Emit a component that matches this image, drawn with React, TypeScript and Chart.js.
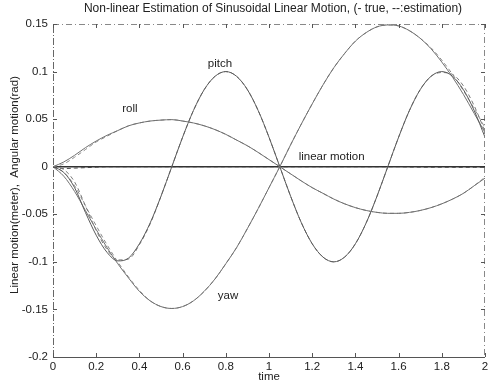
import React, { useEffect, useRef } from 'react';
import { Chart, registerables } from 'chart.js';

Chart.register(...registerables);

const timeValues = [0, 0.05, 0.1, 0.15, 0.2, 0.25, 0.3, 0.35, 0.4, 0.45, 0.5, 0.55, 0.6, 0.65, 0.7, 0.75, 0.8, 0.85, 0.9, 0.95, 1, 1.05, 1.1, 1.15, 1.2, 1.25, 1.3, 1.35, 1.4, 1.45, 1.5, 1.55, 1.6, 1.65, 1.7, 1.75, 1.8, 1.85, 1.9, 1.95, 2];

const rollTrue = [0, 0.005, 0.012, 0.02, 0.027, 0.033, 0.038, 0.043, 0.046, 0.048, 0.049, 0.0495, 0.048, 0.046, 0.043, 0.039, 0.034, 0.028, 0.022, 0.015, 0.0075, 0, -0.0075, -0.015, -0.022, -0.028, -0.034, -0.039, -0.043, -0.046, -0.048, -0.049, -0.049, -0.048, -0.046, -0.043, -0.039, -0.034, -0.028, -0.02, -0.012];
const rollEst = [0, 0.003, 0.01, 0.018, 0.026, 0.032, 0.038, 0.043, 0.046, 0.048, 0.049, 0.0495, 0.048, 0.046, 0.043, 0.039, 0.034, 0.028, 0.022, 0.015, 0.0075, 0, -0.0075, -0.015, -0.022, -0.028, -0.034, -0.039, -0.043, -0.046, -0.048, -0.049, -0.049, -0.048, -0.046, -0.043, -0.039, -0.034, -0.028, -0.02, -0.011];

const pitchTrue = [0, -0.006, -0.022, -0.048, -0.072, -0.09, -0.099, -0.096, -0.081, -0.059, -0.031, 0, 0.031, 0.059, 0.081, 0.095, 0.1, 0.095, 0.081, 0.059, 0.031, 0, -0.031, -0.059, -0.081, -0.095, -0.1, -0.095, -0.081, -0.059, -0.031, 0, 0.031, 0.059, 0.081, 0.095, 0.1, 0.095, 0.081, 0.059, 0.031];
const pitchEst = [0, -0.003, -0.016, -0.041, -0.067, -0.087, -0.098, -0.097, -0.082, -0.06, -0.031, 0, 0.031, 0.059, 0.081, 0.095, 0.1, 0.095, 0.081, 0.059, 0.031, 0, -0.031, -0.059, -0.081, -0.095, -0.1, -0.095, -0.081, -0.059, -0.031, 0, 0.031, 0.059, 0.081, 0.095, 0.099, 0.097, 0.085, 0.064, 0.037];

const yawTrue = [0, -0.01, -0.026, -0.046, -0.066, -0.085, -0.102, -0.117, -0.131, -0.141, -0.147, -0.149, -0.147, -0.141, -0.131, -0.118, -0.102, -0.085, -0.065, -0.044, -0.022, 0, 0.023, 0.045, 0.066, 0.086, 0.104, 0.119, 0.132, 0.141, 0.147, 0.149, 0.148, 0.143, 0.135, 0.124, 0.11, 0.094, 0.076, 0.056, 0.036];
const yawEst = [0, -0.006, -0.02, -0.041, -0.062, -0.082, -0.1, -0.116, -0.13, -0.141, -0.147, -0.149, -0.147, -0.141, -0.131, -0.118, -0.102, -0.085, -0.065, -0.044, -0.022, 0, 0.023, 0.045, 0.066, 0.086, 0.104, 0.119, 0.132, 0.141, 0.147, 0.149, 0.148, 0.143, 0.135, 0.125, 0.112, 0.097, 0.08, 0.061, 0.041];

const linearTrue = [0, 0, 0, 0, 0, 0, 0, 0, 0, 0, 0, 0, 0, 0, 0, 0, 0, 0, 0, 0, 0, 0, 0, 0, 0, 0, 0, 0, 0, 0, 0, 0, 0, 0, 0, 0, 0, 0, 0, 0, 0];
const linearEst = [0, -0.002, -0.0015, -0.001, -0.0005, 0, 0, 0, 0, 0, 0, 0, 0, 0, 0, 0, 0, 0, 0, 0, 0, 0, 0, 0, 0, 0, 0, 0, 0, 0, 0, 0, 0, -0.0003, -0.0004, -0.0005, -0.0005, -0.0006, -0.0006, -0.0006, -0.0006];

const xTicks = [0, 0.2, 0.4, 0.6, 0.8, 1, 1.2, 1.4, 1.6, 1.8, 2];
const xTickLabels = ['0', '0.2', '0.4', '0.6', '0.8', '1', '1.2', '1.4', '1.6', '1.8', '2'];
const yTicks = [-0.2, -0.15, -0.1, -0.05, 0, 0.05, 0.1, 0.15];
const yTickLabels = ['-0.2', '-0.15', '-0.1', '-0.05', '0', '0.05', '0.1', '0.15'];

const titleText = 'Non-linear Estimation of Sinusoidal Linear Motion, (- true, --:estimation)';
const xAxisTitle = 'time';
const yAxisTitle = 'Linear motion(meter),  Angular motion(rad)';
const curveLabels = ['roll', 'pitch', 'yaw', 'linear motion'];
const curveLabelX = [0.356, 0.773, 0.81, 1.29];
const curveLabelY = [0.061, 0.108, -0.136, 0.0105];

const FONT = "'Liberation Sans', Arial, sans-serif";

export default function App() {
  const ref = useRef<HTMLCanvasElement>(null);

  useEffect(() => {
    const canvas = ref.current;
    if (!canvas) return;
    const pts = (ys: number[]) => timeValues.map((t, i) => ({ x: t, y: ys[i] }));
    const ds = (label: string, ys: number[], est: boolean, color: string, width: number) => ({
      label,
      data: pts(ys),
      borderColor: color,
      borderWidth: width,
      borderDash: est ? [4, 3] : [],
      pointRadius: 0,
      cubicInterpolationMode: 'monotone' as const,
      fill: false,
    });

    const datasets = [
      ds('roll', rollTrue, false, '#707070', 1),
      ds('roll est', rollEst, true, '#8a8a8a', 1),
      ds('pitch', pitchTrue, false, '#5a5a5a', 1),
      ds('pitch est', pitchEst, true, '#7a7a7a', 1),
      ds('yaw', yawTrue, false, '#707070', 1),
      ds('yaw est', yawEst, true, '#8a8a8a', 1),
      ds('linear motion', linearTrue, false, '#333333', 1.5),
      ds('linear est', linearEst, true, '#555555', 1),
    ];

    const decor = {
      id: 'decor',
      afterDatasetsDraw(chart: any) {
        const ctx = chart.ctx;
        const a = chart.chartArea;
        const xs = chart.scales.x;
        const ys = chart.scales.y;
        ctx.save();
        // frame
        ctx.strokeStyle = '#555555';
        ctx.lineWidth = 1;
        ctx.setLineDash([]);
        ctx.beginPath();
        ctx.moveTo(a.left, a.bottom + 0.5);
        ctx.lineTo(a.right, a.bottom + 0.5);
        ctx.stroke();
        ctx.strokeStyle = '#666666';
        ctx.setLineDash([7, 2, 1, 2]);
        ctx.beginPath();
        ctx.moveTo(a.left + 0.5, a.bottom);
        ctx.lineTo(a.left + 0.5, a.top);
        ctx.stroke();
        ctx.strokeStyle = '#888888';
        ctx.setLineDash([6, 3, 1, 3]);
        ctx.beginPath();
        ctx.moveTo(a.left, a.top + 0.5);
        ctx.lineTo(a.right, a.top + 0.5);
        ctx.moveTo(a.right - 0.5, a.top);
        ctx.lineTo(a.right - 0.5, a.bottom);
        ctx.stroke();
        ctx.setLineDash([]);
        // inward ticks
        ctx.strokeStyle = '#555555';
        ctx.beginPath();
        xTicks.forEach((v) => {
          const px = Math.round(xs.getPixelForValue(v)) + 0.5;
          ctx.moveTo(px, a.bottom);
          ctx.lineTo(px, a.bottom - 4);
          ctx.moveTo(px, a.top);
          ctx.lineTo(px, a.top + 4);
        });
        yTicks.forEach((v) => {
          const py = Math.round(ys.getPixelForValue(v)) + 0.5;
          ctx.moveTo(a.left, py);
          ctx.lineTo(a.left + 4, py);
          ctx.moveTo(a.right, py);
          ctx.lineTo(a.right - 4, py);
        });
        ctx.stroke();
        // texts
        ctx.fillStyle = '#222222';
        ctx.textAlign = 'center';
        ctx.textBaseline = 'middle';
        ctx.font = `12px ${FONT}`;
        ctx.fillText(titleText, (a.left + a.right) / 2 + 4, 9);
        ctx.font = `11.5px ${FONT}`;
        ctx.fillText(xAxisTitle, (a.left + a.right) / 2, 377);
        ctx.save();
        ctx.translate(15, 185);
        ctx.rotate(-Math.PI / 2);
        ctx.fillText(yAxisTitle, 0, 0);
        ctx.restore();
        curveLabels.forEach((txt, i) => {
          ctx.fillText(txt, xs.getPixelForValue(curveLabelX[i]), ys.getPixelForValue(curveLabelY[i]));
        });
        ctx.restore();
      },
    };

    const tickFont = { family: FONT, size: 11.5 };

    const chart = new Chart(canvas, {
      type: 'line',
      data: { datasets: datasets as any },
      options: {
        responsive: false,
        animation: false,
        maintainAspectRatio: false,
        layout: { padding: { top: 24, right: 8, left: 0, bottom: 0 } },
        plugins: { legend: { display: false }, title: { display: false }, tooltip: { enabled: false } },
        scales: {
          x: {
            type: 'linear',
            min: 0,
            max: 2,
            afterBuildTicks: (s: any) => {
              s.ticks = xTicks.map((v) => ({ value: v }));
            },
            afterFit: (s: any) => {
              s.height = 27;
            },
            ticks: {
              callback: (_v: any, i: number) => xTickLabels[i],
              font: tickFont,
              color: '#222222',
              padding: 3,
              maxRotation: 0,
              autoSkip: false,
            },
            grid: { display: false, drawTicks: false },
            border: { display: false },
          },
          y: {
            type: 'linear',
            min: -0.2,
            max: 0.15,
            afterBuildTicks: (s: any) => {
              s.ticks = yTicks.map((v) => ({ value: v }));
            },
            afterFit: (s: any) => {
              s.width = 53;
            },
            ticks: {
              callback: (_v: any, i: number) => yTickLabels[i],
              font: tickFont,
              color: '#222222',
              padding: 5,
              autoSkip: false,
            },
            grid: { display: false, drawTicks: false },
            border: { display: false },
          },
        },
      },
      plugins: [decor],
    });
    return () => chart.destroy();
  }, []);

  return (
    <div style={{ position: 'fixed', left: 0, top: 0, width: 493, height: 384, background: '#ffffff' }}>
      <canvas ref={ref} width={493} height={384} style={{ display: 'block' }} />
    </div>
  );
}
